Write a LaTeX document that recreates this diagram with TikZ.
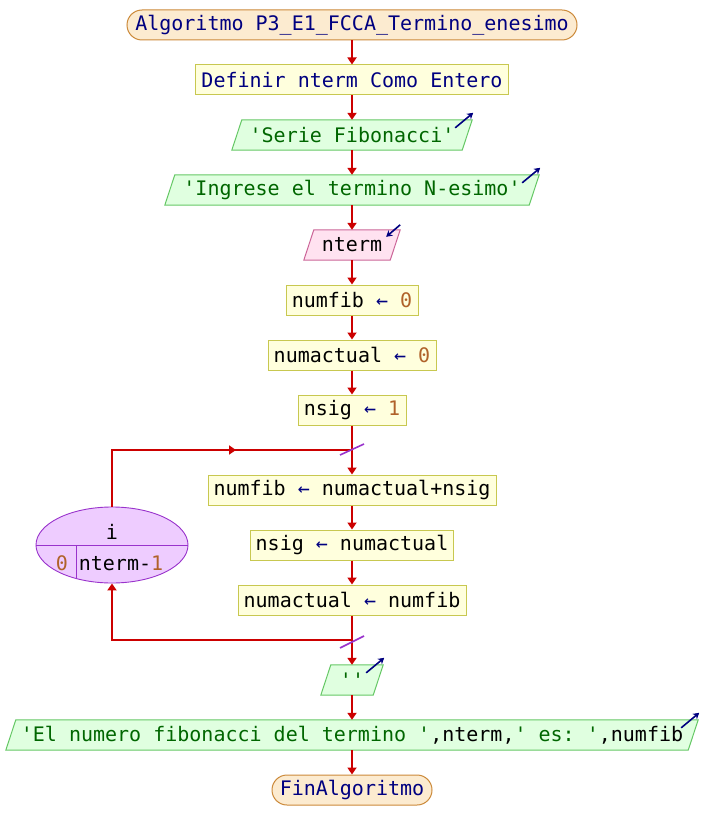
\documentclass[tikz,border=0pt]{standalone}
\usepackage{fontspec}
\setmonofont{DejaVu Sans Mono}
\usetikzlibrary{arrows.meta,shapes.geometric,backgrounds}
\definecolor{kw}{HTML}{000080}
\definecolor{str}{HTML}{006600}
\definecolor{num}{HTML}{B0622A}
\definecolor{flowc}{HTML}{CC0000}
\definecolor{termf}{HTML}{FCEBD0}
\definecolor{termb}{HTML}{CC8A3A}
\definecolor{procf}{HTML}{FFFFDD}
\definecolor{procb}{HTML}{C8C850}
\definecolor{outf}{HTML}{E0FFE0}
\definecolor{outb}{HTML}{66C866}
\definecolor{inf}{HTML}{FFE2F0}
\definecolor{inb}{HTML}{CC6699}
\definecolor{ellf}{HTML}{EECCFF}
\definecolor{ellb}{HTML}{9933CC}
\newcommand\plgram[3]{\begin{scope}[on background layer]\path[fill=#2,draw=#3,line width=1pt] ([xshift=5pt]#1.north west) -- ([xshift=5pt]#1.north east) -- ([xshift=-5pt]#1.south east) -- ([xshift=-5pt]#1.south west) -- cycle;\end{scope}}
\newcommand\asg{{\color{kw}←}}
\begin{document}
\begin{tikzpicture}[x=1pt,y=-1pt,
  every node/.style={font=\ttfamily\fontsize{20}{24}\selectfont, inner sep=0pt},
  term/.style={rectangle, rounded corners=15pt, draw=termb, fill=termf, line width=1pt, minimum height=30pt},
  proc/.style={rectangle, draw=procb, fill=procf, line width=1pt, minimum height=30pt},
  io/.style={rectangle, minimum height=30pt},
  flow/.style={draw=flowc, line width=1.8pt, -{Triangle[width=9pt,length=7pt]}},
  flowline/.style={draw=flowc, line width=1.8pt},
  outarrow/.style={draw=kw, line width=1.6pt, -{Stealth[width=7pt,length=6pt]}},
  slash/.style={draw=ellb, line width=1.6pt}
]
\useasboundingbox (0,0) rectangle (704,840);
\begin{scope}[on background layer]
\fill[white] (0,0) rectangle (704,840);
\end{scope}

\node[term, minimum width=450pt] (start) at (352,25) {\color{kw}Algoritmo P3\_E1\_FCCA\_Termino\_enesimo};
\node[proc, minimum width=313pt] (def) at (352,80) {\color{kw}Definir nterm Como Entero};
\node[io, minimum width=230pt] (serie) at (352,135) {\color{str}'Serie Fibonacci'};
\plgram{serie}{outf}{outb}
\node[io, minimum width=364pt] (ing) at (352,190) {\color{str}'Ingrese el termino N-esimo'};
\plgram{ing}{outf}{outb}
\node[io, minimum width=86pt] (rd) at (352,245) {nterm};
\plgram{rd}{inf}{inb}
\node[proc, minimum width=132pt] (a1) at (352,300) {numfib \asg{} {\color{num}0}};
\node[proc, minimum width=168pt] (a2) at (352,355) {numactual \asg{} {\color{num}0}};
\node[proc, minimum width=108pt] (a3) at (352,410) {nsig \asg{} {\color{num}1}};
\node[proc, minimum width=288pt] (b1) at (352,490) {numfib \asg{} numactual+nsig};
\node[proc, minimum width=203pt] (b2) at (352,545) {nsig \asg{} numactual};
\node[proc, minimum width=228pt] (b3) at (352,600) {numactual \asg{} numfib};
\node[io, minimum width=52pt] (emp) at (352,680) {\color{str}''};
\plgram{emp}{outf}{outb}
\node[io, minimum width=682pt] (res) at (352,735) {\color{str}'El numero fibonacci del termino '\color{black},nterm,\color{str}' es: '\color{black},numfib};
\plgram{res}{outf}{outb}
\node[term, minimum width=160pt] (fin) at (352,790) {\color{kw}FinAlgoritmo};

% loop ellipse
\node[ellipse, draw=ellb, fill=ellf, line width=0.9pt, minimum width=152pt, minimum height=76pt] (ell) at (112,545) {};
\draw[ellb, line width=0.9pt] (ell.west) -- (ell.east);
\draw[ellb, line width=0.9pt] (76,545) -- (76,578.5);
\node (ivar) at (112,532) {i};
\node (ifrom) at (62,563) {\color{num}0};
\node (ito) at (121,563) {nterm-\color{num}1};

% main flow
\draw[flow] (start) -- (def);
\draw[flow] (def) -- (serie);
\draw[flow] (serie) -- (ing);
\draw[flow] (ing) -- (rd);
\draw[flow] (rd) -- (a1);
\draw[flow] (a1) -- (a2);
\draw[flow] (a2) -- (a3);
\coordinate (jt) at (352,450);
\coordinate (jb) at (352,640);
\draw[flow] (a3) -- (b1);
\draw[flow] (b1) -- (b2);
\draw[flow] (b2) -- (b3);
\draw[flow] (b3) -- (emp);
\draw[flow] (emp) -- (res);
\draw[flow] (res) -- (fin);
% loop connectors
\draw[flowline] (ell.north) |- (jt);
\draw[flow] (ell.north |- jt) -- (236,450);
\draw[flow] (jb) -| (ell.south);
\draw[slash] (340,455) -- (364,444);
\draw[slash] (340,648) -- (364,636);

% io arrows
\draw[outarrow] ([shift={(-12,8)}]serie.north east) -- ([shift={(6,-7)}]serie.north east);
\draw[outarrow] ([shift={(-12,8)}]ing.north east) -- ([shift={(6,-7)}]ing.north east);
\draw[outarrow] ([shift={(-12,8)}]emp.north east) -- ([shift={(6,-7)}]emp.north east);
\draw[outarrow] ([shift={(-12,8)}]res.north east) -- ([shift={(6,-7)}]res.north east);
\draw[outarrow] ([shift={(5,-5)}]rd.north east) -- ([shift={(-9,7)}]rd.north east);
\end{tikzpicture}
\end{document}
